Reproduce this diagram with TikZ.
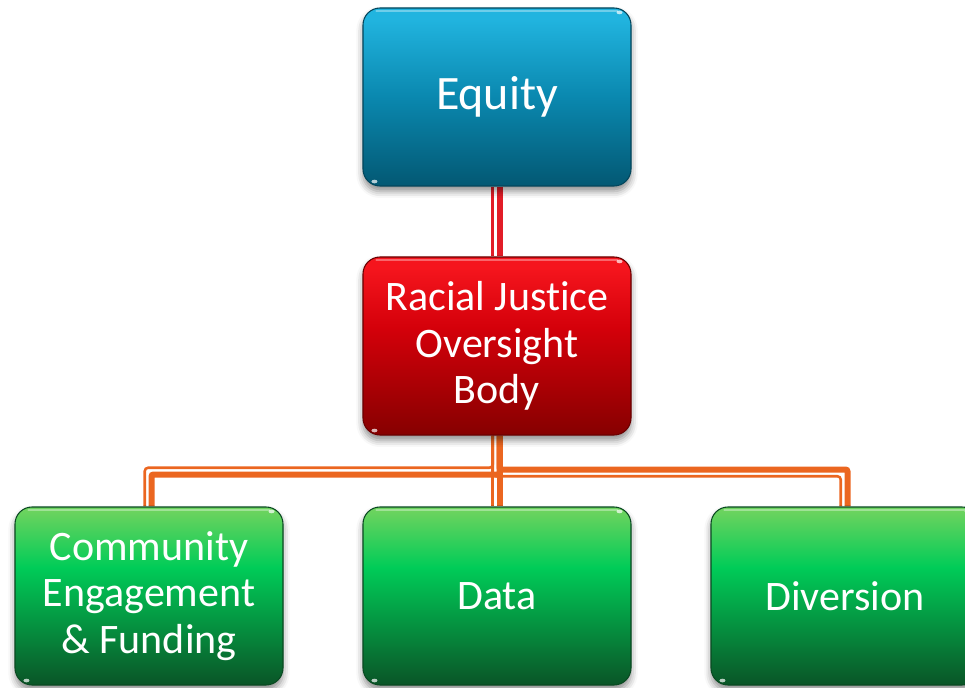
\documentclass[tikz,border=0pt]{standalone}
\usepackage{fontspec}
\setmainfont{Carlito}[Ligatures=NoCommon]
\usetikzlibrary{calc,shadows.blur}

% box gradients (bottom -> top; the path spans 25bp..75bp)
\definecolor{eqtop}{HTML}{21B4DF}
\definecolor{eqmid}{HTML}{0A88AF}
\definecolor{eqbot}{HTML}{035873}
\definecolor{eqedge}{HTML}{03465C}
\definecolor{rjtop}{HTML}{F5151D}
\definecolor{rjmid}{HTML}{D4000A}
\definecolor{rjbot}{HTML}{860000}
\definecolor{rjedge}{HTML}{6A0000}
\definecolor{grtop}{HTML}{6CD35E}
\definecolor{grmid}{HTML}{00CC58}
\definecolor{grbot}{HTML}{0A5527}
\definecolor{gredge}{HTML}{0A4A22}
% connector colours
\definecolor{linkred}{HTML}{E21D27}
\definecolor{linkorange}{HTML}{EB6620}

\pgfdeclareverticalshading{eqshade}{100bp}{color(0bp)=(eqbot); color(25bp)=(eqbot); color(50bp)=(eqmid); color(72bp)=(eqtop); color(100bp)=(eqtop)}
\pgfdeclareverticalshading{rjshade}{100bp}{color(0bp)=(rjbot); color(25bp)=(rjbot); color(55bp)=(rjmid); color(72bp)=(rjtop); color(100bp)=(rjtop)}
\pgfdeclareverticalshading{grshade}{100bp}{color(0bp)=(grbot); color(25bp)=(grbot); color(58bp)=(grmid); color(74bp)=(grtop); color(100bp)=(grtop)}

\pgfdeclarelayer{links}
\pgfsetlayers{links,main}

\begin{document}
\begin{tikzpicture}[x=0.75pt,y=0.75pt,
  box/.style={rounded corners=12.75pt, minimum width=201pt, minimum height=133.5pt,
    inner sep=0pt, text=white, align=center, line width=0.8pt,
    font=\fontsize{31.5}{35}\selectfont,
    blur shadow={shadow xshift=0pt, shadow yshift=-4pt, shadow blur radius=5pt, shadow opacity=45}},
  eqbox/.style={box, shading=eqshade, draw=eqedge},
  rjbox/.style={box, shading=rjshade, draw=rjedge},
  grbox/.style={box, shading=grshade, draw=gredge},
  thickpart/.style={line width=4.5pt, rounded corners=1.5pt},
  thinpart/.style={line width=1.9pt, rounded corners=2.5pt},
  gloss/.style={white, opacity=0.35, line width=1.5pt, line cap=round},
  spec/.style={white, opacity=0.7},
]
\useasboundingbox (0,0) rectangle (965,687);
\clip (0,0) rectangle (965,687);

% boxes
\node[eqbox, font=\fontsize{36}{40}\selectfont] (equity) at (497,590) {Equity};
\node[rjbox] (rjob)   at (497,341) {Racial Justice\\Oversight\\Body};
\node[grbox] (comm)   at (149,91)  {Community\\Engagement\\\& Funding};
\node[grbox] (data)   at (497,91)  {Data};
\node[grbox] (div)    at (845,91)  {Diversion};

\coordinate (bus) at (0,215);

% connectors: each is a thin stroke beside a thick stroke, drawn behind the boxes
\begin{pgfonlayer}{links}
  % Equity -> oversight body
  \draw[linkred, thickpart] ($(equity.south)+(2.5,0)$) -- ($(rjob.north)+(2.5,0)$);
  \draw[linkred, thinpart]  ($(equity.south)+(-4.25,0)$) -- ($(rjob.north)+(-4.25,0)$);
  % oversight body -> Community Engagement & Funding
  \draw[linkorange, thickpart] ($(rjob.south)+(2.5,0)$) -- ($(rjob.south |- bus)+(2.5,-2.5)$)
      -- ($(comm.north |- bus)+(2.5,-2.5)$) -- ($(comm.north)+(2.5,0)$);
  \draw[linkorange, thinpart] ($(rjob.south)+(-4.25,0)$) -- ($(rjob.south |- bus)+(-4.25,4.25)$)
      -- ($(comm.north |- bus)+(-4.25,4.25)$) -- ($(comm.north)+(-4.25,0)$);
  % oversight body -> Data
  \draw[linkorange, thickpart] ($(rjob.south)+(2.5,0)$) -- ($(data.north)+(2.5,0)$);
  \draw[linkorange, thinpart]  ($(rjob.south)+(-4.25,0)$) -- ($(data.north)+(-4.25,0)$);
  % oversight body -> Diversion
  \draw[linkorange, thickpart] ($(rjob.south)+(2.5,0)$) -- ($(rjob.south |- bus)+(2.5,2.5)$)
      -- ($(div.north |- bus)+(2.5,2.5)$) -- ($(div.north)+(2.5,0)$);
  \draw[linkorange, thinpart] ($(rjob.south)+(-4.25,0)$) -- ($(rjob.south |- bus)+(-4.25,-4.25)$)
      -- ($(div.north |- bus)+(-4.25,-4.25)$) -- ($(div.north)+(-4.25,0)$);
\end{pgfonlayer}

% glossy details
\foreach \n in {equity,rjob,comm,data,div}{
  \draw[gloss] ($(\n.north west)+(14,-4)$) -- ($(\n.north east)+(-14,-4)$);
  \fill[spec] ($(\n.north east)+(-12,-5)$) ellipse (3 and 1.8);
  \fill[spec] ($(\n.south west)+(12,5)$) ellipse (3 and 1.8);
}
\end{tikzpicture}
\end{document}
